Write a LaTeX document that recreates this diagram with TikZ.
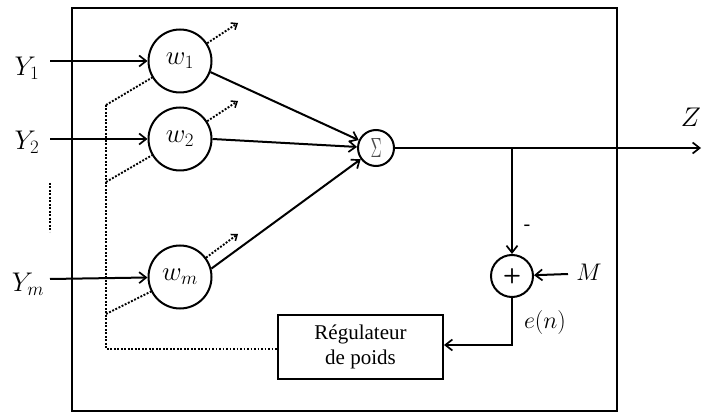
\documentclass[tikz,border=0pt]{standalone}
\usepackage{fix-cm}
\usepackage{fontspec}
\setmainfont{Liberation Serif}
\usetikzlibrary{arrows.meta}
\begin{document}
\begin{tikzpicture}[x=1pt,y=-1pt,
  ln/.style={line width=2pt},
  arr/.style={ln,-{Straight Barb[length=7pt,width=11pt,line width=1.7pt]}},
  dots/.style={line width=1.9pt,dash pattern=on 1.9pt off 1.6pt},
  dotarr/.style={dots,-{Straight Barb[length=5pt,width=8pt,line width=1.5pt]}},
  neuron/.style={circle,ln,draw,minimum size=63pt,inner sep=0pt,font=\fontsize{27}{30}\selectfont},
  lbl/.style={inner sep=0pt,font=\fontsize{27}{30}\selectfont},
]
\useasboundingbox (0,0) rectangle (702,414);
% outer frame
\draw[ln] (72,8) rectangle (617,411);
% neurons
\node[neuron] (w1) at (180,61) {$w_1$};
\node[neuron] (w2) at (180,139) {$w_2$};
\node[neuron] (wm) at (180,277) {$w_m$};
\node[circle,ln,draw,minimum size=36pt,inner sep=0pt] (sig) at (376,148)
  {\color{black!70}\resizebox{11pt}{19pt}{$\Sigma$}};
\node[circle,ln,draw,minimum size=42pt,inner sep=0pt,font=\fontsize{21}{22}\sffamily\bfseries] (plus) at (512,276) {+};
\node[draw,ln,minimum width=165pt,minimum height=63pt,inner sep=0pt,align=center,
  font=\fontsize{21}{25}\selectfont] (reg) at (360.5,347) {Régulateur\\de poids};
% input labels
\node[lbl] (Y1) at (27,68) {$Y_1$};
\node[lbl] (Y2) at (27,142) {$Y_2$};
\node[lbl] (Ym) at (28,284) {$Y_m$};
\coordinate (i1) at (50,61);
\coordinate (i2) at (50,139);
\coordinate (im) at (50,279);
\draw[arr] (i1) -- (w1);
\draw[arr] (i2) -- (w2);
\draw[arr] (im) -- (wm);
% vertical ellipsis
\coordinate (e1) at (50,183);
\coordinate (e2) at (50,232);
\draw[dots] (e1) -- (e2);
% to sum
\draw[arr] (w1.-20) -- (sig);
\draw[arr] (w2.east) -- (sig);
\draw[arr] (wm.15) -- (sig);
% output
\coordinate (zout) at (701,148);
\coordinate (br) at (512,148);
\draw[arr] (sig) -- (zout);
\node[lbl] (Z) at (691,117) {$Z$};
\draw[arr] (br) -- (plus);
\node[inner sep=0pt,font=\fontsize{20}{22}\selectfont] (minus) at (527,228) {-};
\coordinate (mstart) at (568,274);
\draw[arr] (mstart) -- (plus);
\node[lbl,font=\fontsize{24}{28}\selectfont] (M) at (589,272) {$M$};
\coordinate (ec) at (512,345);
\draw[arr] (plus) -- (ec) -- (reg.east |- ec);
\node[lbl,font=\fontsize{24}{28}\selectfont] (en) at (545,323) {$e(n)$};
% dotted feedback
\coordinate (d1) at (106,105);
\coordinate (d2) at (106,182);
\coordinate (d3) at (106,314);
\coordinate (d4) at (106,349);
\draw[dots] (d1) -- (d4) -- (reg.west |- d4);
\draw[dots] (d1) -- (w1);
\draw[dots] (d2) -- (w2);
\draw[dots] (d3) -- (wm);
% dotted outgoing arrows
\coordinate (o1) at (238,23);
\coordinate (o2) at (238,101);
\coordinate (om) at (238,234);
\draw[dotarr] (w1) -- (o1);
\draw[dotarr] (w2) -- (o2);
\draw[dotarr] (wm) -- (om);
\end{tikzpicture}
\end{document}
